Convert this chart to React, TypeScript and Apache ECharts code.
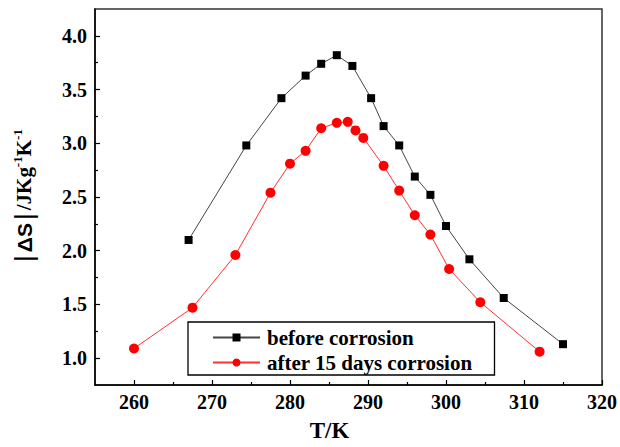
import React, { useEffect, useRef } from "react";
import * as echarts from "echarts";

const beforeT = [267, 274.4, 278.9, 282, 284, 286, 288, 290.4, 292, 294, 296, 298, 300, 303, 307.4, 315];
const beforeS = [2.1, 2.98, 3.42, 3.63, 3.74, 3.82, 3.72, 3.42, 3.16, 2.98, 2.69, 2.52, 2.23, 1.92, 1.56, 1.13];

const afterT = [260, 267.5, 273, 277.5, 280, 282, 284, 286, 287.4, 288.4, 289.4, 292, 294, 296, 298, 300.4, 304.4, 312];
const afterS = [1.09, 1.47, 1.96, 2.54, 2.81, 2.93, 3.14, 3.19, 3.2, 3.12, 3.05, 2.79, 2.56, 2.33, 2.15, 1.83, 1.52, 1.06];

const xMajor = [260, 270, 280, 290, 300, 310, 320];
const xMinor = [265, 275, 285, 295, 305, 315];
const yMajor = [1.0, 1.5, 2.0, 2.5, 3.0, 3.5, 4.0];
const yMinor = [1.25, 1.75, 2.25, 2.75, 3.25, 3.75];

const seriesNames = ["before corrosion", "after 15 days corrosion"];

const SERIF = "'Liberation Serif', 'Times New Roman', serif";
const SANS = "'Liberation Sans', Arial, sans-serif";

export default function App() {
  const ref = useRef<HTMLDivElement>(null);
  useEffect(() => {
    if (!ref.current) return;
    const chart = echarts.init(ref.current, null, { renderer: "svg" });
    const labelStyle = { fontFamily: SERIF, fontWeight: "bold" as const, fontSize: 20, color: "#000" };
    const xBase = { type: "value" as const, min: 255, max: 320, position: "bottom" as const, splitLine: { show: false } };
    const yBase = { type: "value" as const, min: 0.75, max: 4.25, position: "left" as const, splitLine: { show: false } };
    chart.setOption({
      animation: false,
      grid: { left: 95, right: 15, top: 9, bottom: 59, show: true, borderColor: "#333", borderWidth: 1.5, backgroundColor: "transparent" },
      legend: {
        orient: "vertical",
        left: 188,
        top: 322,
        data: seriesNames,
        itemWidth: 47,
        itemHeight: 10,
        itemGap: 4,
        padding: [5, 22, 2, 24],
        borderColor: "#000",
        borderWidth: 1.3,
        textStyle: { fontFamily: SERIF, fontWeight: "bold", fontSize: 21, color: "#000", padding: [0, 0, 0, 2] },
      },
      xAxis: [
        {
          ...xBase,
          name: "T/K",
          nameLocation: "middle",
          nameGap: 34,
          nameTextStyle: { fontFamily: SERIF, fontWeight: "bold", fontSize: 23, color: "#000", padding: [0, 38, 0, 0] },
          axisLine: { show: true, lineStyle: { color: "#000", width: 1.5 } },
          axisTick: { show: true, inside: true, length: 5, customValues: xMajor, lineStyle: { color: "#000", width: 1.2 } },
          axisLabel: { ...labelStyle, margin: 7, customValues: xMajor, formatter: (v: number) => String(v) },
        },
        {
          ...xBase,
          axisLine: { show: false },
          axisTick: { show: true, inside: true, length: 3, customValues: xMinor, lineStyle: { color: "#000", width: 1.2 } },
          axisLabel: { show: false },
        },
      ],
      yAxis: [
        {
          ...yBase,
          name: "{bar||}{ds|ΔS}{bar||}{t|/JKg}{sup|-1}{t|K}{sup|-1}",
          nameLocation: "middle",
          nameGap: 58,
          nameRotate: 90,
          nameTextStyle: {
            color: "#000",
            rich: {
              bar: { fontFamily: SANS, fontSize: 26, fontWeight: "normal", color: "#000", padding: [0, 3, 0, 3], lineHeight: 26 },
              ds: { fontFamily: SANS, fontSize: 21, fontWeight: "bold", color: "#000", lineHeight: 26 },
              t: { fontFamily: SERIF, fontSize: 21, fontWeight: "bold", color: "#000", lineHeight: 26 },
              sup: { fontFamily: SERIF, fontSize: 13, fontWeight: "bold", color: "#000", verticalAlign: "top", lineHeight: 14 },
            },
          },
          axisLine: { show: true, lineStyle: { color: "#000", width: 1.5 } },
          axisTick: { show: true, inside: true, length: 5, customValues: yMajor, lineStyle: { color: "#000", width: 1.2 } },
          axisLabel: { ...labelStyle, margin: 8, customValues: yMajor, formatter: (v: number) => v.toFixed(1) },
        },
        {
          ...yBase,
          axisLine: { show: false },
          axisTick: { show: true, inside: true, length: 3, customValues: yMinor, lineStyle: { color: "#000", width: 1.2 } },
          axisLabel: { show: false },
        },
      ],
      series: [
        {
          name: seriesNames[0],
          type: "line",
          xAxisIndex: 0,
          yAxisIndex: 0,
          data: beforeT.map((t, i) => [t, beforeS[i]]),
          symbol: "rect",
          symbolSize: 8,
          lineStyle: { color: "#444", width: 1 },
          itemStyle: { color: "#000" },
        },
        {
          name: seriesNames[1],
          type: "line",
          xAxisIndex: 0,
          yAxisIndex: 0,
          data: afterT.map((t, i) => [t, afterS[i]]),
          symbol: "circle",
          symbolSize: 10,
          lineStyle: { color: "#ff3030", width: 1 },
          itemStyle: { color: "#ff0000" },
        },
      ],
    });
    return () => chart.dispose();
  }, []);
  return <div ref={ref} style={{ position: "absolute", left: 0, top: 0, width: 620, height: 447 }} />;
}
